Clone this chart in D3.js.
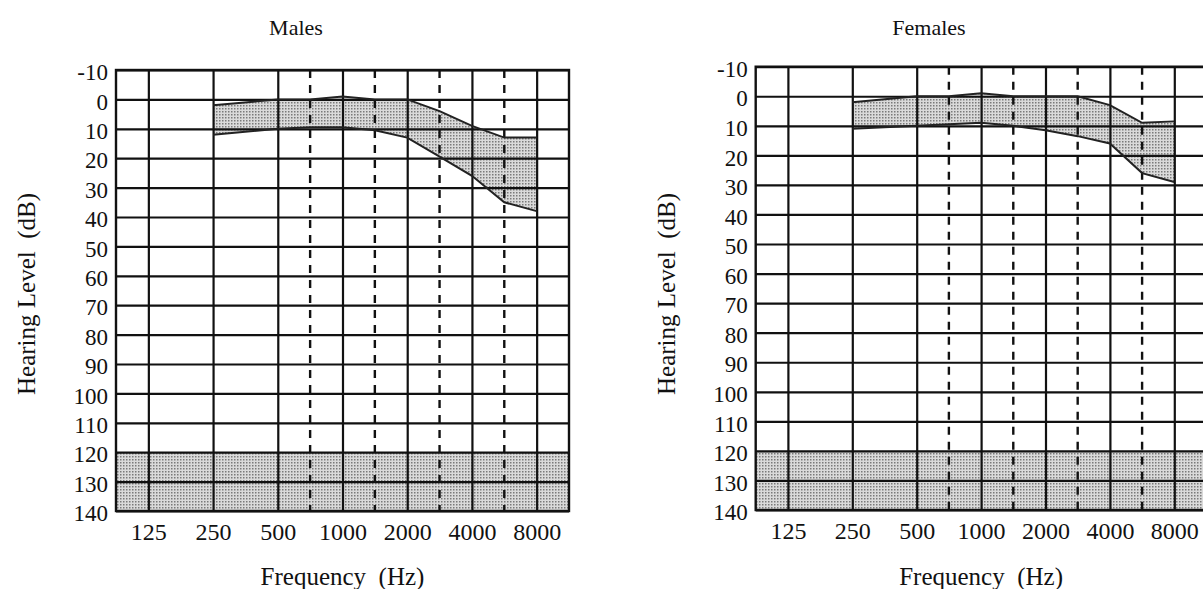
<!DOCTYPE html>
<html>
<head>
<meta charset="utf-8">
<style>
body { margin: 0; background: #fff; }
text { font-family: "Liberation Serif", "Times New Roman", serif; fill: #111; }
</style>
</head>
<body>
<svg id="chart" width="1203" height="589"></svg>
<script src="https://d3js.org/d3.v7.min.js"></script>
<script>

// audiometric frequencies (Hz) and dB grid
const freqTicks = [125, 250, 500, 1000, 2000, 4000, 8000];
const halfOctaves = [707, 1414, 2828, 5657];   // dashed lines between octaves
const dbTicks = d3.range(-10, 141, 10);

// range of hearing levels
const bandFreqs = [250, 500, 750, 1000, 1500, 2000, 3000, 4000, 6000, 8000];
const bandX = [250, 500, 707, 1000, 1414, 2000, 2828, 4000, 5657, 8000];
const malesUpper = [2, 0, 0, -1, 0, 0, 4, 9, 13, 13];
const malesLower = [12, 10, 9.5, 9.5, 10.5, 13, 19.5, 26, 35, 38];
const femalesUpper = [2, 0, 0, -1, 0, 0, 0, 3, 9, 8.5];
const femalesLower = [11, 10, 9.5, 9, 10, 11.5, 13.5, 16, 26, 29];

// region beyond audiometer limits
const limitFrom = 120, limitTo = 140;

const svg = d3.select("#chart");

let defs = svg.append("defs");
let pat = defs.append("pattern")
    .attr("id", "dots")
    .attr("patternUnits", "userSpaceOnUse")
    .attr("width", 3).attr("height", 3);
pat.append("rect").attr("width", 3).attr("height", 3).attr("fill", "#dadada");
pat.append("rect").attr("width", 1.5).attr("height", 1.5).attr("fill", "#7a7a7a");

function drawPanel(opt) {
    let x = d3.scaleLog()
        .domain([125 / Math.SQRT2, 8000 * Math.SQRT2])
        .range([opt.x0, opt.x1]);
    let y = d3.scaleLinear()
        .domain([-10, 140])
        .range([opt.y0, opt.y1]);

    let g = svg.append("g");

    // shaded limit zone
    g.append("rect")
        .attr("x", opt.x0)
        .attr("y", y(limitFrom))
        .attr("width", opt.x1 - opt.x0)
        .attr("height", y(limitTo) - y(limitFrom))
        .attr("fill", "url(#dots)");

    // hearing band
    let pts = bandFreqs.map((f, i) => ({ f: bandX[i], lo: opt.upper[i], hi: opt.lower[i] }));
    g.append("path")
        .datum(pts)
        .attr("fill", "url(#dots)")
        .attr("d", d3.area()
            .x(d => x(d.f))
            .y0(d => y(d.lo))
            .y1(d => y(d.hi)));

    // horizontal grid + labels
    let yAxis = g.append("g")
        .attr("transform", "translate(" + opt.x0 + ",0)")
        .call(d3.axisLeft(y)
            .tickValues(dbTicks)
            .tickSize(-(opt.x1 - opt.x0))
            .tickPadding(8)
            .tickFormat(d => String(d)));
    yAxis.select(".domain").remove();
    yAxis.selectAll("line").attr("stroke", "#111").attr("stroke-width", 2.2);
    yAxis.selectAll("text")
        .attr("font-size", 23)
        .attr("font-family", "Liberation Serif")
        .attr("fill", "#111")
        .attr("dy", "0.42em");

    // vertical grid + labels
    let xAxis = g.append("g")
        .attr("transform", "translate(0," + opt.y1 + ")")
        .call(d3.axisBottom(x)
            .tickValues(freqTicks)
            .tickSize(-(opt.y1 - opt.y0))
            .tickPadding(12)
            .tickFormat(d => String(d)));
    xAxis.select(".domain").remove();
    xAxis.selectAll("line").attr("stroke", "#111").attr("stroke-width", 2.2);
    xAxis.selectAll("text")
        .attr("font-size", 24)
        .attr("font-family", "Liberation Serif")
        .attr("fill", "#111");

    // dashed half-octave lines
    g.selectAll("line.half")
        .data(halfOctaves)
        .join("line")
        .attr("class", "half")
        .attr("x1", d => x(d)).attr("x2", d => x(d))
        .attr("y1", opt.y0).attr("y2", opt.y1)
        .attr("stroke", "#111")
        .attr("stroke-width", 2.4)
        .attr("stroke-dasharray", "8,7");

    // band edges
    [opt.upper, opt.lower].forEach(vals => {
        g.append("path")
            .datum(vals.map((v, i) => [bandX[i], v]))
            .attr("fill", "none")
            .attr("stroke", "#222")
            .attr("stroke-width", 2)
            .attr("d", d3.line().x(d => x(d[0])).y(d => y(d[1])));
    });

    // frame
    g.append("rect")
        .attr("x", opt.x0).attr("y", opt.y0)
        .attr("width", opt.x1 - opt.x0)
        .attr("height", opt.y1 - opt.y0)
        .attr("fill", "none")
        .attr("stroke", "#111")
        .attr("stroke-width", 2.4);

    // titles
    g.append("text")
        .attr("x", opt.titleX).attr("y", 35)
        .attr("text-anchor", "middle")
        .attr("font-size", 22)
        .text(opt.title);

    g.append("text")
        .attr("x", (opt.x0 + opt.x1) / 2).attr("y", 585)
        .attr("text-anchor", "middle")
        .attr("font-size", 25)
        .text("Frequency\u00a0\u00a0(Hz)");

    g.append("text")
        .attr("transform", "translate(" + opt.labelX + ",294) rotate(-90)")
        .attr("text-anchor", "middle")
        .attr("font-size", 25)
        .text("Hearing Level\u00a0\u00a0(dB)");
}

drawPanel({ title: "Males", x0: 116, x1: 569, y0: 70, y1: 511, titleX: 296, labelX: 35,
            upper: malesUpper, lower: malesLower });
drawPanel({ title: "Females", x0: 755.7, x1: 1206.5, y0: 66.7, y1: 510, titleX: 929, labelX: 675,
            upper: femalesUpper, lower: femalesLower });

</script>
</body>
</html>
